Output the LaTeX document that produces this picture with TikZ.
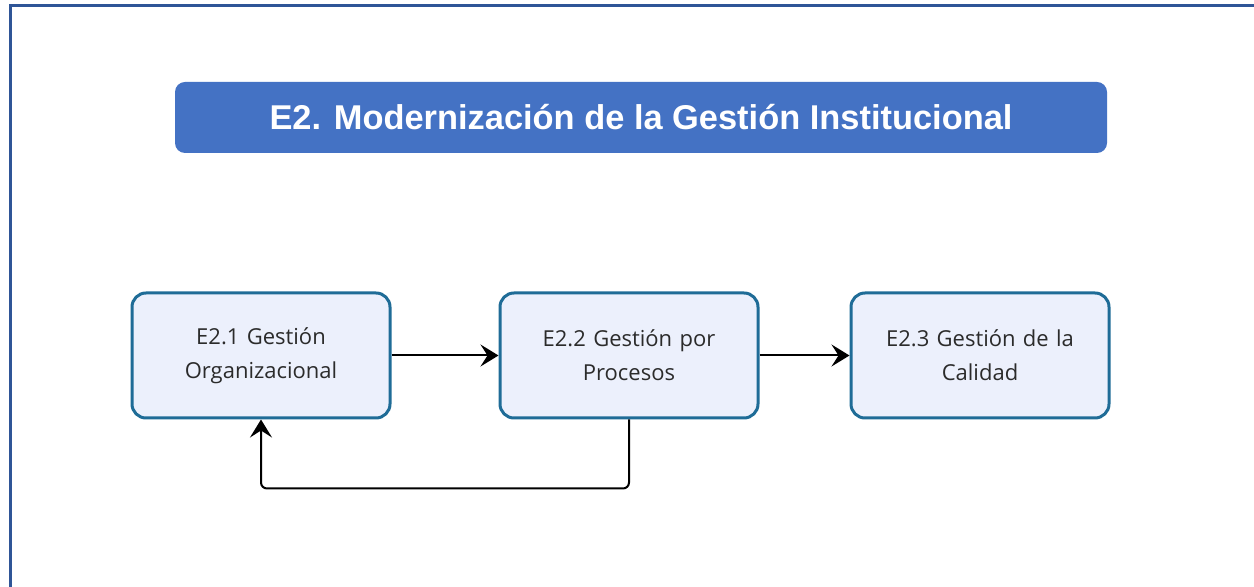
\documentclass[tikz,border=0pt]{standalone}
\usepackage{fontspec}
\setmainfont{Open Sans}
\newfontfamily\titlefont{Liberation Sans}
\usetikzlibrary{arrows.meta, positioning}

\definecolor{framecol}{HTML}{2F5597}
\definecolor{titlecol}{HTML}{4472C4}
\definecolor{boxfill}{HTML}{ECF0FC}
\definecolor{boxline}{HTML}{1F6C97}
\definecolor{textcol}{HTML}{2B2B2B}

\begin{document}
\begin{tikzpicture}[x=0.5pt, y=-0.5pt,
    stage/.style={draw=boxline, fill=boxfill, line width=1.5pt, rounded corners=7pt,
      minimum width=129pt, minimum height=62.5pt, align=center, text width=120pt,
      font=\fontsize{11}{17}\selectfont, text=textcol},
    arr/.style={line width=1pt, -{Stealth[length=9pt, width=11pt, inset=3.5pt]}}]
    \useasboundingbox (0,0) rectangle (1254,587);
    \fill[white] (0,0) rectangle (1254,587);
    \draw[framecol, line width=1.5pt] (10,600) -- (10,6) -- (1260,6);

    \node[fill=titlecol, rounded corners=5pt, minimum width=466pt, minimum height=35.5pt,
      text=white, font=\titlefont\bfseries\fontsize{17.2}{20}\selectfont]
      (title) at (641,117.5) {E2. Modernización de la Gestión Institucional};

    \node[stage] (org) at (261,355.5) {E2.1 Gestión\\Organizacional};
    \node[stage] (proc) at (629,355.5) {E2.2 Gestión por\\Procesos};
    \node[stage] (cal) at (980,355.5) {E2.3 Gestión de la\\Calidad};

    \draw[arr] (org) -- (proc);
    \draw[arr] (proc) -- (cal);
    \draw[arr, rounded corners=3pt] (proc.south) -- ++(0,69) -| (org.south);
\end{tikzpicture}
\end{document}
